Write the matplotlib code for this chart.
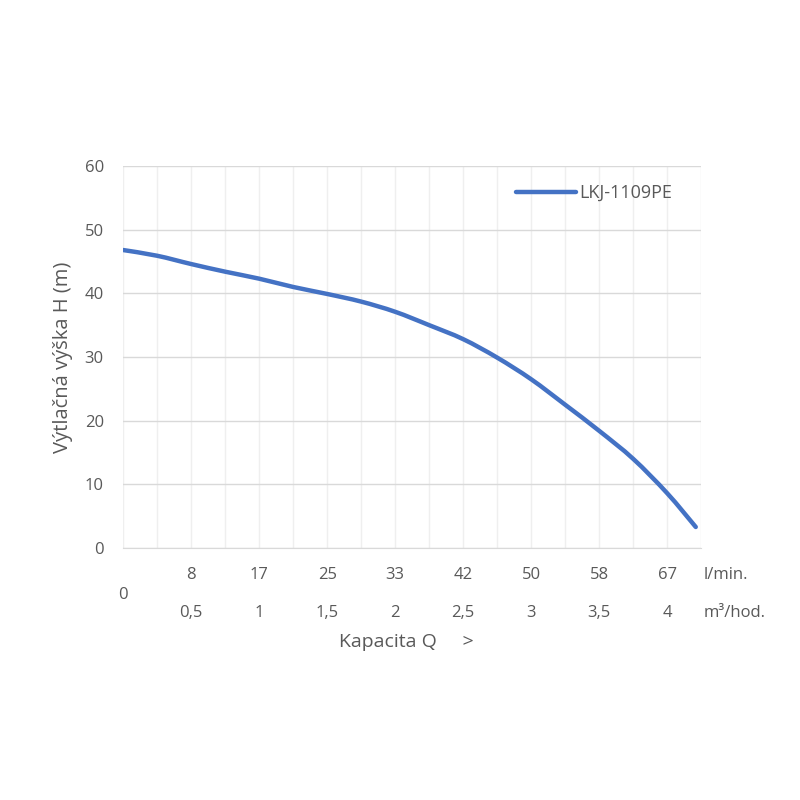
import matplotlib
matplotlib.use('Agg')
import matplotlib.pyplot as plt
import matplotlib.transforms as mtransforms
from matplotlib.path import Path
from matplotlib.patches import PathPatch
from matplotlib.lines import Line2D
import numpy as np

plt.rcParams['font.family'] = ['Open Sans', 'DejaVu Sans']

# capacity in m3/h and head in m
q_m3h = [0.0, 0.25, 0.5, 0.75, 1.0, 1.25, 1.5, 1.75, 2.0, 2.25, 2.5, 2.75,
         3.0, 3.25, 3.5, 3.75, 4.0, 4.21]
head = [46.8, 45.9, 44.6, 43.4, 42.3, 41.0, 39.9, 38.7, 37.1, 35.0, 32.8, 29.9,
        26.5, 22.5, 18.4, 14.0, 8.6, 3.3]

tick_pos = [0.5, 1.0, 1.5, 2.0, 2.5, 3.0, 3.5, 4.0]
lmin_labels = ['8', '17', '25', '33', '42', '50', '58', '67']
m3h_labels = ['0,5', '1', '1,5', '2', '2,5', '3', '3,5', '4']

series_name = 'LKJ-1109PE'
txt = '#595959'
blue = '#4472C4'


def smooth_path(xs, ys):
    # excel-like smoothed line: catmull-rom segments as cubic beziers
    p = np.column_stack([xs, ys])
    verts = [p[0]]
    codes = [Path.MOVETO]
    for i in range(len(p) - 1):
        p0 = p[i - 1] if i > 0 else p[i]
        p3 = p[i + 2] if i + 2 < len(p) else p[i + 1]
        c1 = p[i] + (p[i + 1] - p0) / 6.0
        c2 = p[i + 1] - (p3 - p[i]) / 6.0
        verts += [c1, c2, p[i + 1]]
        codes += [Path.CURVE4] * 3
    return Path(verts, codes)


fig = plt.figure(figsize=(8, 8), dpi=100)
ax = fig.add_axes([0.154, 0.315, 0.7225, 0.4775])

ax.add_patch(PathPatch(smooth_path(q_m3h, head), fill=False, edgecolor=blue,
                       lw=3.2, capstyle='round', zorder=3))

ax.set_xlim(0, 4.25)
ax.set_ylim(0, 60)
ax.set_yticks(np.arange(0, 61, 10))
ax.set_xticks(np.arange(0, 4.26, 0.25))
ax.set_xticklabels([])
ax.tick_params(axis='both', length=0, labelsize=12, colors=txt)
ax.tick_params(axis='y', pad=14)

ax.grid(axis='y', color='#d9d9d9', lw=1)
ax.grid(axis='x', color='#efefef', lw=1)
ax.set_axisbelow(True)
for s in ['top', 'right', 'left']:
    ax.spines[s].set_visible(False)
ax.spines['bottom'].set_color('#d9d9d9')

trans = mtransforms.blended_transform_factory(ax.transData, ax.transAxes)
for x, a, b in zip(tick_pos, lmin_labels, m3h_labels):
    ax.text(x, -0.071, a, transform=trans, ha='center', va='center',
            fontsize=12, color=txt)
    ax.text(x, -0.170, b, transform=trans, ha='center', va='center',
            fontsize=12, color=txt)
ax.text(0, -0.123, '0', transform=trans, ha='center', va='center',
        fontsize=12, color=txt)
ax.text(4.27, -0.071, 'l/min.', transform=trans, ha='left', va='center',
        fontsize=12, color=txt)
ax.text(4.27, -0.170, 'm³/hod.', transform=trans, ha='left', va='center',
        fontsize=12, color=txt)

ax.text(0.49, -0.245, 'Kapacita Q     >', transform=ax.transAxes,
        ha='center', va='center', fontsize=14, color=txt)
ax.set_ylabel('Výtlačná výška H (m)', fontsize=14.5, color=txt, labelpad=8)

handle = Line2D([], [], color=blue, lw=3.2, solid_capstyle='round')
leg = ax.legend([handle], [series_name], loc='upper left',
                bbox_to_anchor=(0.667, 0.972), frameon=False, fontsize=13,
                handlelength=3.3, handletextpad=0.2, borderaxespad=0)
for t in leg.get_texts():
    t.set_color(txt)

fig.savefig('out.png', dpi=100, facecolor='white')
